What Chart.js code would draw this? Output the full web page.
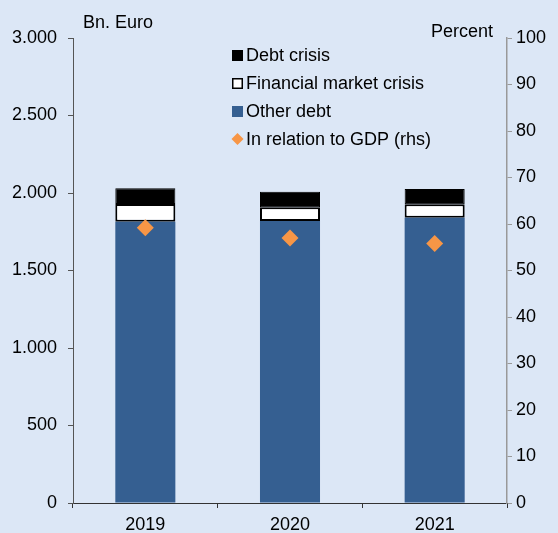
<!DOCTYPE html>
<html>
<head>
<meta charset="utf-8">
<script src="https://cdn.jsdelivr.net/npm/chart.js@4"></script>
<style>
  body { margin: 0; background: #dce7f6; }
  .wrap { position: relative; width: 558px; height: 533px; }
</style>
</head>
<body>
<div class="wrap"><canvas id="chart"></canvas></div>
<script>
const years = ["2019", "2020", "2021"];
const otherDebt = [1815, 1819, 1841];
const financialCrisis = [114, 89, 86];
const debtCrisis = [101, 100, 99];
const debtToGdp = [59.2, 57.0, 55.8];

const font = '"Liberation Sans", Arial, sans-serif';
const fontSize = 18;
const blue = "#355f91";
const orange = "#f79646";

const fmtThousands = (v) => String(v).replace(/\B(?=(\d{3})+(?!\d))/g, ".");

// legend + axis titles drawn inside the plot
const extras = {
  id: "extras",
  afterDraw(chart) {
    const ctx = chart.ctx;
    ctx.save();
    ctx.font = fontSize + "px " + font;
    ctx.fillStyle = "#000";
    ctx.textBaseline = "alphabetic";
    ctx.textAlign = "left";
    ctx.fillText("Bn. Euro", 83, 28);
    ctx.textAlign = "right";
    ctx.fillText("Percent", 493, 37);

    const items = [
      { label: "Debt crisis", type: "box", fill: "#000", stroke: false },
      { label: "Financial market crisis", type: "box", fill: "#fff", stroke: true },
      { label: "Other debt", type: "box", fill: blue, stroke: false },
      { label: "In relation to GDP (rhs)", type: "diamond", fill: orange },
    ];
    ctx.textAlign = "left";
    ctx.textBaseline = "middle";
    items.forEach((it, i) => {
      const y = 55 + i * 28;
      ctx.fillStyle = it.fill;
      if (it.type === "box") {
        ctx.fillRect(232, y - 5, 11, 11);
        if (it.stroke) {
          ctx.strokeStyle = "#000";
          ctx.lineWidth = 1.5;
          ctx.strokeRect(232.75, y - 4.25, 9.5, 9.5);
        }
      } else {
        ctx.beginPath();
        ctx.moveTo(237.5, y - 6);
        ctx.lineTo(243.5, y);
        ctx.lineTo(237.5, y + 6);
        ctx.lineTo(231.5, y);
        ctx.closePath();
        ctx.fill();
      }
      ctx.fillStyle = "#000";
      ctx.fillText(it.label, 246, y + 1);
    });
    ctx.restore();
  },
};

new Chart(document.getElementById("chart"), {
  type: "bar",
  data: {
    labels: years,
    datasets: [
      {
        label: "Other debt",
        data: otherDebt,
        backgroundColor: blue,
        yAxisID: "y",
        stack: "debt",
        order: 2,
      },
      {
        label: "Financial market crisis",
        data: financialCrisis,
        backgroundColor: "#fff",
        borderColor: "#000",
        borderWidth: 2,
        borderSkipped: false,
        yAxisID: "y",
        stack: "debt",
        order: 2,
      },
      {
        label: "Debt crisis",
        data: debtCrisis,
        backgroundColor: "#000",
        borderColor: "#000",
        borderWidth: 1,
        borderSkipped: false,
        yAxisID: "y",
        stack: "debt",
        order: 2,
      },
      {
        type: "line",
        label: "In relation to GDP (rhs)",
        data: debtToGdp,
        yAxisID: "y1",
        showLine: false,
        pointStyle: "rectRot",
        pointRadius: 8.5,
        pointHoverRadius: 8.5,
        pointBackgroundColor: orange,
        pointBorderWidth: 0,
        order: 1,
      },
    ],
  },
  options: {
    responsive: true,
    maintainAspectRatio: false,
    animation: false,
    categoryPercentage: 1,
    barPercentage: 0.415,
    layout: { padding: { top: 38, left: 0, right: 0, bottom: 0 } },
    plugins: {
      legend: { display: false },
      tooltip: { enabled: false },
    },
    scales: {
      x: {
        stacked: true,
        grid: {
          drawOnChartArea: false,
          offset: true,
          tickLength: 5,
          color: "#333",
        },
        border: { color: "#333", width: 1 },
        ticks: { color: "#000", font: { family: font, size: fontSize }, padding: 6 },
        afterFit: (s) => { s.height = 30; },
      },
      y: {
        stacked: true,
        position: "left",
        min: 0,
        max: 3000,
        grid: { drawOnChartArea: false, tickLength: 5, color: "#555" },
        border: { color: "#555", width: 1 },
        ticks: {
          stepSize: 500,
          color: "#000",
          padding: 11,
          font: { family: font, size: fontSize },
          callback: (v) => fmtThousands(v),
        },
        afterFit: (s) => { s.width = 73; },
      },
      y1: {
        position: "right",
        min: 0,
        max: 100,
        grid: { drawOnChartArea: false, tickLength: 5, color: "#999" },
        border: { color: "#999", width: 1.5 },
        ticks: {
          stepSize: 10,
          color: "#000",
          padding: 4,
          font: { family: font, size: fontSize },
        },
        afterFit: (s) => { s.width = 51; },
      },
    },
  },
  plugins: [extras],
});
</script>
</body>
</html>
